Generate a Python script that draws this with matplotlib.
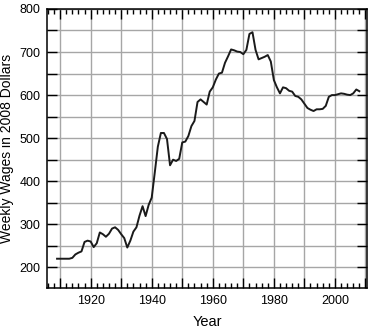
import numpy as np
import matplotlib.pyplot as plt
from matplotlib.ticker import MultipleLocator, FuncFormatter

plt.rcParams['font.family'] = ['Liberation Sans', 'DejaVu Sans']

# Annual weekly wages (2008 dollars)
years = np.arange(1909, 2009)
wages = [
    220, 220, 220, 220, 220, 222, 230, 234, 237, 259,   # 1909-1918
    262, 260, 247, 256, 281, 277, 271, 278, 290, 293,   # 1919-1928
    287, 277, 268, 246, 262, 283, 293, 320, 342, 319,   # 1929-1938
    345, 362, 420, 480, 512, 512, 498, 437, 450, 447,   # 1939-1948
    452, 490, 492, 505, 528, 540, 584, 590, 584, 578,   # 1949-1958
    608, 618, 636, 650, 652, 675, 690, 706, 704, 701,   # 1959-1968
    700, 695, 705, 742, 746, 705, 683, 686, 689, 693,   # 1969-1978
    678, 635, 618, 604, 618, 616, 610, 608, 598, 596,   # 1979-1988
    590, 580, 570, 566, 563, 567, 567, 568, 575, 596,   # 1989-1998
    600, 600, 602, 604, 603, 601, 600, 604, 613, 609,   # 1999-2008
]

fig = plt.figure(figsize=(3.87, 3.32), dpi=100)
ax = fig.add_axes([0.1222, 0.1325, 0.8253, 0.8405])

ax.plot(years, wages, color='#1a1a1a', lw=1.4, zorder=3)

ax.set_xlim(1905.8, 2010.4)
ax.set_ylim(152, 800)

ax.xaxis.set_major_locator(MultipleLocator(10))
ax.xaxis.set_minor_locator(MultipleLocator(2))
ax.yaxis.set_major_locator(MultipleLocator(50))
ax.xaxis.set_major_formatter(FuncFormatter(lambda v, p: f"{int(v)}" if int(v) % 20 == 0 else ""))
ax.yaxis.set_major_formatter(FuncFormatter(lambda v, p: f"{int(v)}" if int(v) % 100 == 0 else ""))

ax.tick_params(which='both', direction='in', top=True, right=True, labelsize=9, colors='black')
ax.tick_params(which='major', length=7, width=1.0, pad=5)
ax.tick_params(which='minor', length=3.5, width=1.0)

ax.grid(True, which='major', color='#a6a6a6', lw=1.0, zorder=0)
for s in ax.spines.values():
    s.set_linewidth(1.1)

ax.set_xlabel("Year", fontsize=10.5, labelpad=6)
ax.set_ylabel("Weekly Wages in 2008 Dollars", fontsize=10, labelpad=4)

fig.savefig("out.png", dpi=100)
